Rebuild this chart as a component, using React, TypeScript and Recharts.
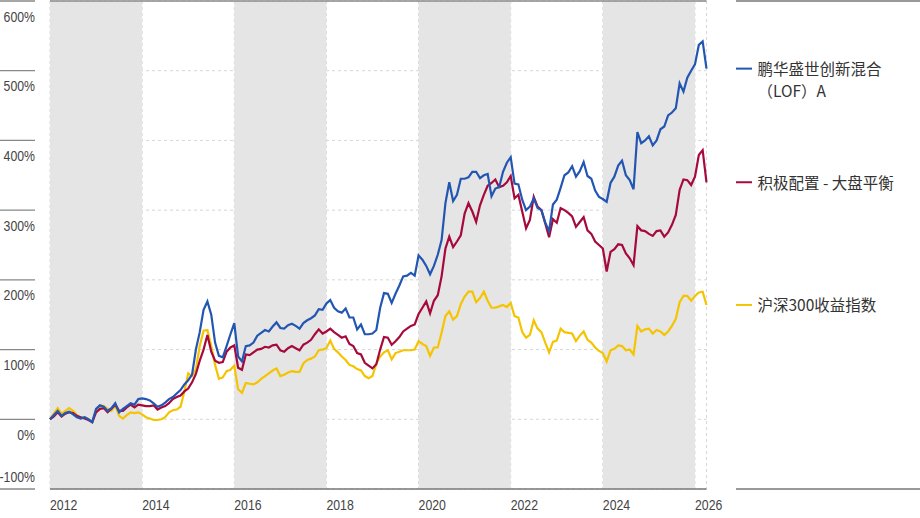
import React from 'react';
import { LineChart, Line, XAxis, YAxis, CartesianGrid, ReferenceArea, ReferenceLine } from 'recharts';

// Monthly observations starting January 2012
const blueValues = [
  0, 6, 12, 5, 9, 11, 7, 3, 1, 3, 0, -4,
  15, 20, 18, 12, 16, 23, 10, 15, 19, 23, 21, 29,
  30, 29, 27, 23, 18, 20, 24, 29, 32, 37, 42, 50,
  56, 64, 100, 125, 157, 169, 150, 110, 91, 89, 105, 122,
  138, 90, 83, 105, 106, 110, 120, 124, 128, 126, 133, 139,
  131, 130, 135, 137, 134, 130, 138, 142, 145, 149, 158, 157,
  166, 171, 160, 155, 153, 159, 146, 146, 129, 136, 122, 122,
  123, 128, 160, 181, 180, 167, 180, 192, 205, 206, 210, 206,
  235, 229, 220, 208, 220, 236, 257, 310, 340, 313, 322, 345,
  345, 347, 355, 355, 346, 350, 352, 320, 331, 333, 355, 368,
  376, 338, 337, 315, 300, 305, 317, 303, 300, 282, 270, 308,
  315, 332, 350, 354, 363, 348, 356, 369, 349, 345, 328, 319,
  316, 312, 339, 348, 364, 371, 350, 343, 330, 412, 396, 400,
  406, 393, 400, 416, 420, 436, 440, 446, 482, 470, 490, 500,
  509, 537, 542, 503,
];

const redValues = [
  0, 4, 10, 4, 8, 10, 9, 5, 3, 1, -1, -4,
  10, 15, 16, 10, 15, 21, 12, 12, 17, 21, 17, 21,
  20, 19, 19, 20, 14, 17, 19, 23, 29, 32, 34, 40,
  44, 53, 65, 84, 100, 121, 97, 84, 81, 82, 97, 103,
  106, 74, 71, 93, 92, 96, 100, 101, 104, 103, 106, 107,
  99, 97, 102, 105, 102, 99, 107, 110, 114, 122, 129, 123,
  126, 130, 125, 121, 117, 119, 108, 105, 95, 93, 81, 77,
  73, 79, 100, 118, 117, 107, 112, 118, 126, 130, 134, 136,
  151, 160, 169, 152, 170, 178, 205, 245, 262, 247, 255, 264,
  295, 310, 298, 283, 307, 322, 335, 339, 344, 333, 335, 340,
  349, 317, 322, 298, 274, 286, 319, 305, 300, 281, 261, 287,
  282, 303, 300, 296, 291, 276, 283, 290, 271, 266, 255, 250,
  245, 212, 240, 244, 251, 250, 238, 231, 221, 277, 271, 270,
  266, 263, 270, 271, 262, 268, 279, 293, 329, 344, 343, 336,
  348, 379, 386, 340,
];

const yellowValues = [
  0, 8, 16, 8, 12, 16, 12, 6, 1, 3, 0, -4,
  14, 20, 19, 15, 12, 20, 5, 1, 6, 10, 9, 10,
  7, 3, 1, -1, -1, 0, 3, 10, 13, 14, 18, 40,
  66, 62, 72, 105, 127, 128, 105, 78, 58, 60, 69, 71,
  77, 43, 38, 52, 51, 50, 53, 58, 62, 66, 70, 73,
  62, 64, 67, 69, 68, 68, 80, 85, 87, 90, 99, 100,
  102, 113, 101, 96, 90, 85, 78, 76, 72, 70, 62, 59,
  62, 80, 90, 96, 99, 86, 95, 97, 99, 99, 99, 100,
  112, 108, 105, 91, 103, 103, 124, 148, 155, 143, 148, 165,
  176, 183, 183, 168, 174, 183, 170, 160, 160, 162, 164, 161,
  167, 148, 146, 125, 117, 121, 142, 130, 125, 110, 96, 111,
  113, 130, 125, 124, 123, 112, 120, 126, 114, 110, 103, 98,
  95, 83, 99, 101, 106, 105, 99, 100, 93, 134, 126, 129,
  130, 123, 128, 126, 121, 126, 134, 144, 168, 177, 177, 170,
  177, 182, 183, 164,
];

const startYear = 2012;
const xTicks = [2012, 2014, 2016, 2018, 2020, 2022, 2024, 2026];
const yTicks = [-100, 0, 100, 200, 300, 400, 500, 600];
const shadedBands = [
  [2012, 2014],
  [2016, 2018],
  [2020, 2022],
  [2024, 2026],
];

const blueName = ['鹏华盛世创新混合', '（LOF）A'];
const redName = ['积极配置 - 大盘平衡'];
const yellowName = ['沪深300收益指数'];

const BLUE = '#2356b2';
const RED = '#a6093b';
const YELLOW = '#f5c400';

const rows = blueValues.map((v, i) => ({
  t: startYear + i / 12,
  blue: v,
  red: redValues[i],
  yellow: yellowValues[i],
}));
const LAST = rows.length - 1;

const NARROW = "'Liberation Sans', Arial, sans-serif";
const CJK = "'Noto Sans CJK SC', 'Noto Sans', sans-serif";
const SQUEEZE = 0.82;

const YTick = (props: any) => {
  const { payload } = props;
  const y = typeof payload.coordinate === 'number' ? payload.coordinate : props.y;
  const v = payload.value;
  const ty = v === -100 ? y - 7 : y + 20.5;
  return (
    <g>
      <line x1={0} x2={35} y1={y} y2={y} stroke="#888" strokeWidth={1.3} />
      <text
        transform={`translate(35, ${ty}) scale(${SQUEEZE}, 1)`}
        x={0}
        y={0}
        textAnchor="end"
        fontSize={15}
        fill="#444"
        fontFamily={NARROW}
      >
        {v}%
      </text>
    </g>
  );
};

const XTick = (props: any) => {
  const { x, payload } = props;
  return (
    <text
      transform={`translate(${x}, 510) scale(${SQUEEZE}, 1)`}
      x={0}
      y={0}
      textAnchor="start"
      fontSize={15}
      fill="#444"
      fontFamily={NARROW}
    >
      {payload.value}
    </text>
  );
};

const makeLegend = (lines: string[], color: string) => (props: any) => {
  const { x, y, index } = props;
  const isLast = index === LAST || (index === undefined && x > 700);
  if (!isLast) return <g />;
  return (
    <g>
      <line x1={x + 29.5} x2={x + 45.5} y1={y} y2={y} stroke={color} strokeWidth={2} />
      {lines.map((l, k) => (
        <text
          key={k}
          x={x + 51}
          y={y + 6.5 + k * 22}
          fontSize={15.5}
          fill="#333"
          fontFamily={CJK}
        >
          {l}
        </text>
      ))}
    </g>
  );
};

export default function App() {
  return (
    <div style={{ position: 'absolute', left: 0, top: 0, width: 920, height: 518, background: '#fff' }}>
      <LineChart
        width={920}
        height={518}
        data={rows}
        margin={{ top: 1, right: 213.5, bottom: 0, left: 0 }}
      >
        <CartesianGrid stroke="#d6d6d6" strokeDasharray="3 3" />
        {shadedBands.map(([a, b]) => (
          <ReferenceArea key={a} x1={a} x2={b} fill="#e5e5e5" fillOpacity={1} stroke="none" />
        ))}
        <ReferenceLine y={600} stroke="#8a8a8a" strokeWidth={1.3} />
        <XAxis
          dataKey="t"
          type="number"
          domain={[2012, 2026.25]}
          ticks={xTicks}
          height={29}
          tickLine={false}
          axisLine={{ stroke: '#777', strokeWidth: 1.5 }}
          tick={<XTick />}
          allowDecimals
        />
        <YAxis
          type="number"
          domain={[-100, 600]}
          ticks={yTicks}
          width={50}
          axisLine={false}
          tickLine={false}
          tick={<YTick />}
        />
        <Line
          type="linear"
          dataKey="yellow"
          stroke={YELLOW}
          strokeWidth={2.2}
          dot={false}
          isAnimationActive={false}
          label={makeLegend(yellowName, YELLOW)}
        />
        <Line
          type="linear"
          dataKey="red"
          stroke={RED}
          strokeWidth={2.2}
          dot={false}
          isAnimationActive={false}
          label={makeLegend(redName, RED)}
        />
        <Line
          type="linear"
          dataKey="blue"
          stroke={BLUE}
          strokeWidth={2.2}
          dot={false}
          isAnimationActive={false}
          label={makeLegend(blueName, BLUE)}
        />
      </LineChart>
      <svg
        width={920}
        height={518}
        style={{ position: 'absolute', left: 0, top: 0, pointerEvents: 'none' }}
      >
        <line x1={736} x2={920} y1={1} y2={1} stroke="#777" strokeWidth={1.5} />
        <line x1={736} x2={920} y1={489} y2={489} stroke="#777" strokeWidth={1.5} />
      </svg>
    </div>
  );
}
